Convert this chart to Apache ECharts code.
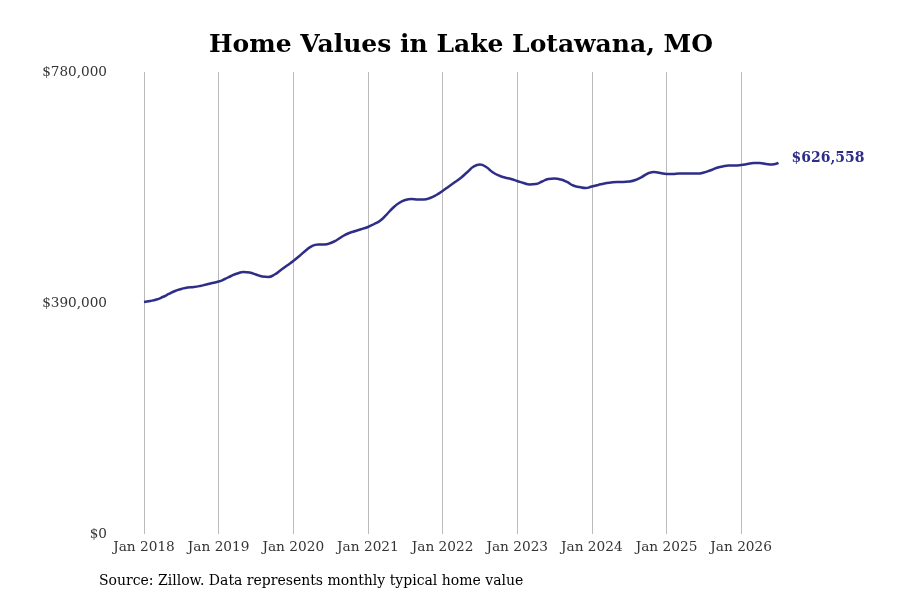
<!DOCTYPE html>
<html>
<head>
<meta charset="utf-8">
<script src="https://cdn.jsdelivr.net/npm/echarts@6/dist/echarts.min.js"></script>
<style>
  html, body { margin: 0; padding: 0; background: #fff; }
  #main { width: 900px; height: 600px; }
</style>
</head>
<body>
<div id="main"></div>
<script>
// monthly typical home value, Jan 2018 .. Jul 2026
var years = [2018, 2019, 2020, 2021, 2022, 2023, 2024, 2025, 2026];
var monthNames = ['Jan', 'Feb', 'Mar', 'Apr', 'May', 'Jun', 'Jul', 'Aug', 'Sep', 'Oct', 'Nov', 'Dec'];

var values2018 = [391700, 393400, 395900, 400100, 405200, 410300, 413600, 416200, 417000, 418700, 421200, 423800];
var values2019 = [426300, 430500, 435600, 439800, 442300, 441500, 438100, 434700, 433900, 438100, 445700, 453300];
var values2020 = [460900, 469400, 478600, 486200, 488800, 488800, 491300, 496400, 503100, 508200, 511600, 514900];
var values2021 = [518300, 523400, 529300, 539400, 550400, 558800, 563900, 565600, 564700, 564700, 567300, 572300];
var values2022 = [579100, 586700, 594300, 601900, 611200, 620500, 623800, 619600, 611200, 605300, 601900, 599400];
var values2023 = [596000, 592600, 590100, 590900, 595100, 599400, 600200, 598500, 594300, 588400, 585800, 584200];
var values2024 = [586700, 589200, 591800, 593400, 594300, 594300, 595100, 597700, 602700, 608600, 611200, 609500];
var values2025 = [607800, 607800, 608600, 608600, 608600, 608600, 610300, 613700, 617900, 620500, 622100, 622100];
var values2026 = [623000, 624700, 626400, 626400, 624700, 623800, 626558];

var yTicks = [0, 390000, 780000];

var values = [].concat(values2018, values2019, values2020, values2021, values2022,
    values2023, values2024, values2025, values2026);

var months = [];
for (var i = 0; i < values.length; i++) {
    months.push(monthNames[i % 12] + ' ' + years[Math.floor(i / 12)]);
}

function money(v) {
    return '$' + v.toString().replace(/\B(?=(\d{3})+(?!\d))/g, ',');
}

var font = 'DejaVu Serif';
var lineColor = '#2e2d88';

var myChart = echarts.init(document.getElementById('main'));

var option = {
    backgroundColor: '#fff',
    animation: false,
    title: {
        text: 'Home Values in Lake Lotawana, MO',
        left: 204,
        top: 28,
        textStyle: {
            fontFamily: font,
            fontWeight: 'bold',
            fontSize: 25,
            color: '#000'
        }
    },
    graphic: [{
        type: 'text',
        left: 99,
        top: 574,
        style: {
            text: 'Source: Zillow. Data represents monthly typical home value',
            font: '14px "DejaVu Serif"',
            fill: '#000'
        }
    }],
    grid: {
        left: 144,
        right: 121.5,
        top: 72,
        bottom: 66
    },
    xAxis: {
        type: 'category',
        boundaryGap: false,
        data: months,
        axisLine: { show: false },
        axisTick: { show: false },
        axisLabel: {
            interval: function (idx) { return idx % 12 === 0; },
            fontFamily: font,
            fontSize: 13.7,
            color: '#333',
            margin: 6
        },
        splitLine: {
            show: true,
            interval: function (idx) { return idx % 12 === 0; },
            lineStyle: { color: '#bbb', width: 1 }
        }
    },
    yAxis: {
        type: 'value',
        min: yTicks[0],
        max: yTicks[2],
        interval: yTicks[1],
        axisLine: { show: false },
        axisTick: { show: false },
        splitLine: { show: false },
        axisLabel: {
            formatter: money,
            fontFamily: font,
            fontSize: 13.6,
            color: '#333',
            margin: 37,
            padding: [4, 0, 0, 0]
        }
    },
    series: [{
        name: 'Home Value',
        type: 'line',
        data: values,
        smooth: true,
        showSymbol: false,
        lineStyle: { color: lineColor, width: 2.5 },
        itemStyle: { color: lineColor },
        endLabel: {
            show: true,
            formatter: function (p) { return money(p.value); },
            fontFamily: font,
            fontWeight: 'bold',
            fontSize: 14,
            color: lineColor,
            distance: 13,
            offset: [0, -5]
        }
    }]
};

myChart.setOption(option);
</script>
</body>
</html>
